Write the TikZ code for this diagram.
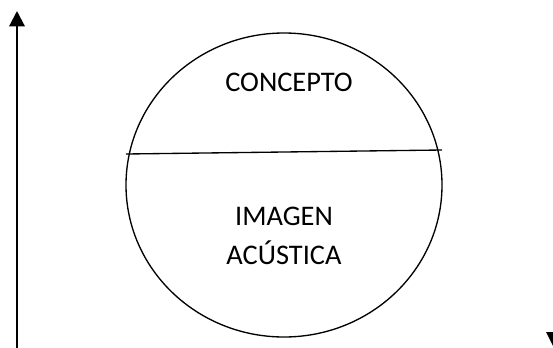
\documentclass[tikz,border=0pt]{standalone}
\usepackage{fontspec}
\setmainfont{Carlito}
\usetikzlibrary{arrows.meta}
\tikzset{
  lbl/.style={font=\fontsize{21.3}{29.5}\selectfont, align=center, inner sep=0pt},
  thinline/.style={line width=1pt, black},
  axis/.style={line width=1.6pt, -{Triangle[width=11.5pt,length=11.5pt]}}
}
\begin{document}
\begin{tikzpicture}[x=0.75pt,y=-0.75pt]
\useasboundingbox (0,0) rectangle (553,347);
% vertical arrow
\coordinate (abot) at (17,350);
\coordinate (atop) at (17,11);
\draw[axis] (abot) -- (atop);
% circle
\draw[thinline] (284,185) ellipse [x radius=158, y radius=152];
% dividing line
\coordinate (cl) at (126,154);
\coordinate (cr) at (442,150);
\draw[thinline] (cl) -- (cr);
% texts
\node[lbl] (concepto) at (289,82) {CONCEPTO};
\node[lbl] (imagen) at (284,236) {IMAGEN\\ACÚSTICA};
% partial arrowhead bottom right
\fill (546,332) -- (561,332) -- (553.5,347) -- cycle;
\end{tikzpicture}
\end{document}
